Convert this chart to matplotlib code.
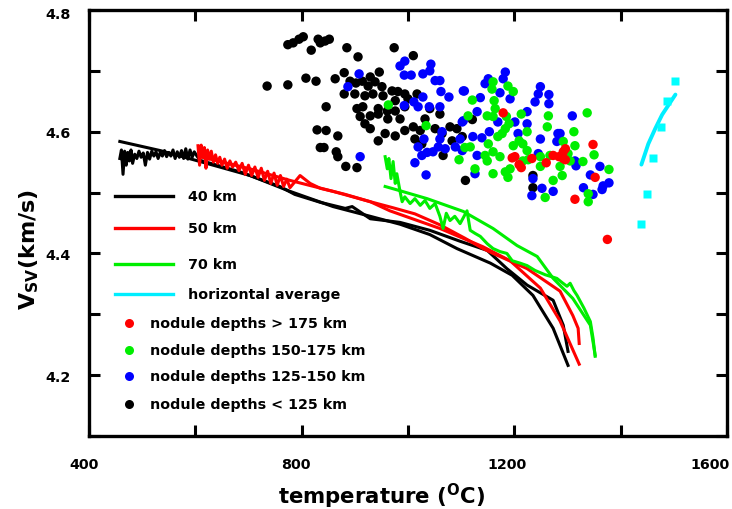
import matplotlib
matplotlib.use("Agg")
import matplotlib.pyplot as plt
from matplotlib.transforms import ScaledTranslation

plt.rcParams['font.family'] = ['DejaVu Sans']

# ---------------- data ----------------
# 40 km (two model curves)
t40a = [458, 534, 609, 703, 778, 859, 929, 985, 1041, 1092, 1155, 1196, 1235, 1273, 1301]
v40a = [4.584, 4.569, 4.551, 4.528, 4.502, 4.477, 4.461, 4.448, 4.431, 4.408, 4.384, 4.364, 4.331, 4.277, 4.216]
t40b = [458, 461, 464, 467, 470, 473, 476, 479, 482, 486, 490, 494, 498, 502, 506, 510, 514, 518,
        522, 526, 530, 534, 538, 542, 546, 550, 554, 558, 562, 566, 570, 574, 578, 582, 586, 590,
        594, 598, 603, 609, 684, 759, 787, 835, 882, 895, 929, 985, 1041, 1098, 1149, 1186, 1224,
        1273, 1292, 1301]
v40b = [4.556, 4.570, 4.530, 4.568, 4.545, 4.566, 4.552, 4.570, 4.548, 4.563, 4.556, 4.568, 4.558,
        4.565, 4.545, 4.566, 4.555, 4.568, 4.560, 4.567, 4.556, 4.566, 4.560, 4.569, 4.559, 4.566,
        4.560, 4.570, 4.556, 4.567, 4.558, 4.569, 4.556, 4.572, 4.555, 4.570, 4.558, 4.567, 4.560,
        4.553, 4.534, 4.510, 4.497, 4.484, 4.474, 4.477, 4.457, 4.451, 4.438, 4.420, 4.405, 4.375,
        4.348, 4.323, 4.282, 4.239]

# 50 km
t50a = [609, 703, 778, 859, 929, 966, 1060, 1141, 1192, 1249, 1286, 1322]
v50a = [4.559, 4.539, 4.520, 4.502, 4.485, 4.470, 4.441, 4.411, 4.388, 4.343, 4.289, 4.218]
t50b = [605, 608, 611, 614, 617, 620, 623, 626, 630, 634, 638, 642, 646, 650, 655, 660, 665, 670,
        676, 682, 688, 694, 700, 706, 712, 718, 724, 730, 736, 742, 748, 754, 760, 766, 772, 778,
        797, 816, 835, 859, 882, 929, 972, 1013, 1060, 1107, 1141, 1160, 1224, 1286, 1310, 1320, 1322]
v50b = [4.577, 4.545, 4.578, 4.558, 4.574, 4.540, 4.570, 4.555, 4.568, 4.550, 4.562, 4.548, 4.558,
        4.545, 4.555, 4.540, 4.552, 4.542, 4.550, 4.536, 4.548, 4.530, 4.545, 4.528, 4.542, 4.525,
        4.540, 4.520, 4.535, 4.515, 4.532, 4.512, 4.528, 4.510, 4.522, 4.508, 4.528, 4.515, 4.507,
        4.502, 4.497, 4.485, 4.475, 4.465, 4.447, 4.425, 4.408, 4.400, 4.375, 4.338, 4.298, 4.277, 4.252]

# 70 km
t70a = [957, 985, 1036, 1104, 1160, 1205, 1243, 1273, 1310, 1343, 1352]
v70a = [4.510, 4.503, 4.490, 4.469, 4.441, 4.413, 4.395, 4.359, 4.326, 4.282, 4.233]
t70b = [957, 961, 964, 968, 972, 976, 979, 985, 989, 994, 1004, 1013, 1023, 1032, 1041, 1051, 1060,
        1066, 1072, 1079, 1088, 1098, 1111, 1117, 1126, 1136, 1149, 1160, 1173, 1186, 1196, 1211,
        1224, 1239, 1258, 1280, 1290, 1299, 1305, 1312, 1318, 1331, 1343, 1348, 1352]
v70b = [4.559, 4.539, 4.556, 4.523, 4.551, 4.515, 4.531, 4.502, 4.485, 4.493, 4.482, 4.490, 4.479,
        4.487, 4.474, 4.482, 4.461, 4.441, 4.466, 4.454, 4.461, 4.449, 4.470, 4.438, 4.433, 4.428,
        4.416, 4.408, 4.403, 4.400, 4.388, 4.384, 4.380, 4.372, 4.365, 4.359, 4.352, 4.346, 4.351,
        4.339, 4.331, 4.310, 4.288, 4.261, 4.231]

# horizontal average
t_havg = [1439, 1452, 1465, 1478, 1503]
v_havg = [4.546, 4.580, 4.605, 4.628, 4.661]
t_sq = [1503, 1488, 1476, 1461, 1450, 1439]
v_sq = [4.684, 4.651, 4.608, 4.556, 4.497, 4.448]

# nodules < 125 km
t_blk = [774, 784, 795, 803, 831, 835, 844, 852, 818, 885, 906, 735, 774, 808, 827, 863, 880, 891,
         902, 880, 846, 904, 829, 846, 868, 835, 842, 865, 868, 883, 904, 974, 1010, 946, 929, 914,
         925, 938, 951, 919, 934, 953, 970, 981, 994, 976, 1000, 1017, 915, 944, 976, 994, 910, 929,
         944, 961, 929, 944, 957, 976, 994, 1010, 1013, 1026, 1051, 1064, 1079, 1092, 1083, 1066,
         1108, 1121, 1102, 1235, 1235, 900, 962, 985, 1032, 1041, 1060, 919, 1023]
v_blk = [4.743, 4.746, 4.752, 4.756, 4.752, 4.746, 4.749, 4.752, 4.734, 4.738, 4.723, 4.675, 4.677,
         4.688, 4.683, 4.687, 4.697, 4.683, 4.680, 4.662, 4.641, 4.638, 4.603, 4.602, 4.593, 4.574,
         4.574, 4.567, 4.559, 4.543, 4.541, 4.738, 4.725, 4.698, 4.690, 4.683, 4.675, 4.682, 4.674,
         4.659, 4.662, 4.659, 4.667, 4.666, 4.662, 4.651, 4.654, 4.662, 4.641, 4.638, 4.634, 4.641,
         4.625, 4.626, 4.629, 4.634, 4.605, 4.585, 4.597, 4.593, 4.602, 4.608, 4.588, 4.580, 4.605,
         4.597, 4.608, 4.605, 4.585, 4.561, 4.520, 4.620, 4.592, 4.528, 4.508, 4.662, 4.621, 4.621,
         4.621, 4.638, 4.629, 4.613, 4.602]

# nodules 125-150 km
t_blu = [887, 908, 910, 994, 985, 993, 1006, 1028, 1043, 1041, 1051, 1060, 1062, 1077, 1104, 993,
         1011, 1019, 1028, 1040, 1060, 1030, 1060, 1064, 1019, 1026, 1036, 1047, 1057, 1070, 1089,
         1102, 1013, 1034, 1104, 1183, 1179, 1151, 1145, 1106, 1136, 1173, 1192, 1249, 1245, 1239,
         1265, 1265, 1224, 1130, 1169, 1224, 1201, 1153, 1122, 1139, 1207, 1249, 1282, 1280, 1102,
         1098, 1130, 1126, 1235, 1233, 1252, 1273, 1245, 1309, 1286, 1314, 1316, 1361, 1343, 1330,
         1367, 1378, 1365, 1348]
v_blu = [4.674, 4.695, 4.559, 4.716, 4.708, 4.693, 4.693, 4.695, 4.711, 4.700, 4.684, 4.684, 4.666,
         4.657, 4.667, 4.643, 4.649, 4.641, 4.657, 4.641, 4.641, 4.588, 4.588, 4.600, 4.575, 4.561,
         4.566, 4.567, 4.575, 4.572, 4.575, 4.569, 4.549, 4.529, 4.618, 4.698, 4.687, 4.687, 4.679,
         4.667, 4.656, 4.664, 4.654, 4.674, 4.662, 4.649, 4.661, 4.646, 4.633, 4.633, 4.616, 4.613,
         4.616, 4.600, 4.592, 4.590, 4.597, 4.588, 4.597, 4.584, 4.616, 4.588, 4.561, 4.531, 4.523,
         4.495, 4.507, 4.502, 4.564, 4.626, 4.597, 4.552, 4.544, 4.543, 4.529, 4.508, 4.511, 4.516,
         4.505, 4.497]

# nodules 150-175 km
t_grn = [963, 1034, 1096, 1160, 1158, 1188, 1198, 1121, 1162, 1164, 1149, 1160, 1185, 1213, 1264,
         1262, 1190, 1183, 1177, 1169, 1224, 1113, 1209, 1117, 1151, 1145, 1160, 1173, 1198, 1216,
         1224, 1226, 1249, 1267, 1286, 1292, 1126, 1160, 1183, 1188, 1192, 1273, 1249, 1216, 1258,
         1149, 1107, 1337, 1312, 1314, 1350, 1329, 1378, 1339, 1339, 1305, 1290, 1301]
v_grn = [4.644, 4.610, 4.554, 4.682, 4.670, 4.675, 4.666, 4.652, 4.651, 4.638, 4.626, 4.625, 4.625,
         4.629, 4.626, 4.608, 4.613, 4.605, 4.597, 4.592, 4.600, 4.626, 4.585, 4.575, 4.580, 4.561,
         4.567, 4.559, 4.577, 4.580, 4.569, 4.554, 4.559, 4.561, 4.543, 4.584, 4.539, 4.531, 4.534,
         4.525, 4.539, 4.520, 4.543, 4.552, 4.492, 4.552, 4.574, 4.631, 4.600, 4.577, 4.562, 4.551,
         4.538, 4.498, 4.485, 4.552, 4.528, 4.564]

# nodules > 175 km
t_red = [1179, 1196, 1201, 1209, 1213, 1233, 1260, 1273, 1284, 1292, 1296, 1348, 1296, 1292, 1352,
         1314, 1375]
v_red = [4.631, 4.557, 4.559, 4.546, 4.541, 4.556, 4.549, 4.561, 4.559, 4.567, 4.554, 4.579, 4.572,
         4.556, 4.525, 4.489, 4.423]

xticks = [400, 600, 800, 1000, 1200, 1400, 1600]
xticklabels = ['400', '', '800', '', '1200', '', '1600']
yticks = [4.1, 4.2, 4.3, 4.4, 4.5, 4.6, 4.7, 4.8]
yticklabels = ['', '4.2', '', '4.4', '', '4.6', '', '4.8']

line_labels = ['40 km', '50 km', '70 km', 'horizontal average']
line_colors = ['black', '#ff0000', '#00ee00', '#00eeff']
dot_labels = ['nodule depths > 175 km', 'nodule depths 150-175 km',
              'nodule depths 125-150 km', 'nodule depths < 125 km']
dot_colors = ['#ff0000', '#00ee00', '#0000ff', 'black']

# ---------------- figure ----------------
fig = plt.figure(figsize=(7.32, 5.10), dpi=100)
ax = fig.add_axes([89/732, 73/510, 638/732, 426/510])

lw = 2.2
ax.plot(t40a, v40a, color='black', lw=lw)
ax.plot(t40b, v40b, color='black', lw=lw)
ax.plot(t50a, v50a, color='#ff0000', lw=lw)
ax.plot(t50b, v50b, color='#ff0000', lw=lw)
ax.plot(t70a, v70a, color='#00ee00', lw=lw)
ax.plot(t70b, v70b, color='#00ee00', lw=lw)
ax.plot(t_havg, v_havg, color='#00eeff', lw=2.8, solid_capstyle='round')
ax.plot(t_sq, v_sq, ls='none', marker='s', ms=6.2, color='#00ffff', mec='none')

s = 46
ax.scatter(t_blk, v_blk, s=s, color='black', edgecolors='none', zorder=3)
ax.scatter(t_blu, v_blu, s=s, color='#0000ff', edgecolors='none', zorder=3)
ax.scatter(t_grn, v_grn, s=s, color='#00ee00', edgecolors='none', zorder=3)
ax.scatter(t_red, v_red, s=s, color='#ff0000', edgecolors='none', zorder=3)

ax.set_xlim(400, 1600)
ax.set_ylim(4.1, 4.8)
ax.set_xticks(xticks)
ax.set_xticklabels(xticklabels, fontsize=10.3, fontweight='bold')
ax.set_yticks(yticks)
ax.set_yticklabels(yticklabels, fontsize=10.3, fontweight='bold')
ax.tick_params(axis='both', direction='in', length=8, width=2.2,
               top=True, right=True)
ax.tick_params(axis='x', pad=15)
ax.tick_params(axis='y', pad=13.5)
for sp in ax.spines.values():
    sp.set_linewidth(2.4)

shifts = {'400': -5, '800': -6, '1200': -7, '1600': -17}
for lab in ax.get_xticklabels():
    dx = shifts.get(lab.get_text(), 0)
    lab.set_transform(lab.get_transform() + ScaledTranslation(dx/100, 0, fig.dpi_scale_trans))
ylabs = ax.get_yticklabels()
ylabs[-1].set_transform(ylabs[-1].get_transform() + ScaledTranslation(0, -3/100, fig.dpi_scale_trans))

ax.set_xlabel(r'temperature ($^{\mathbf{O}}$C)', fontsize=15.3, fontweight='bold')
ax.xaxis.set_label_coords(0.458, -0.104)
ax.set_ylabel(r'V$_{\mathbf{SV}}$(km/s)', fontsize=16, fontweight='bold')
ax.yaxis.set_label_coords(-0.075, 0.44)

# legend drawn manually in axes coordinates
line_y = [0.5634, 0.4883, 0.4038, 0.3333]
for lab, col, yy in zip(line_labels, line_colors, line_y):
    ax.plot([0.0408, 0.1317], [yy, yy], color=col, lw=2.4, transform=ax.transAxes)
    ax.text(0.155, yy, lab, transform=ax.transAxes, fontsize=10.3, fontweight='bold',
            va='center', ha='left')
dot_y = [0.2653, 0.2019, 0.1408, 0.0751]
for lab, col, yy in zip(dot_labels, dot_colors, dot_y):
    ax.plot([0.0627], [yy], marker='o', ms=6.5, color=col, mec='none', transform=ax.transAxes)
    ax.text(0.0956, yy, lab, transform=ax.transAxes, fontsize=10.3, fontweight='bold',
            va='center', ha='left')

fig.savefig('out.png', dpi=100)
